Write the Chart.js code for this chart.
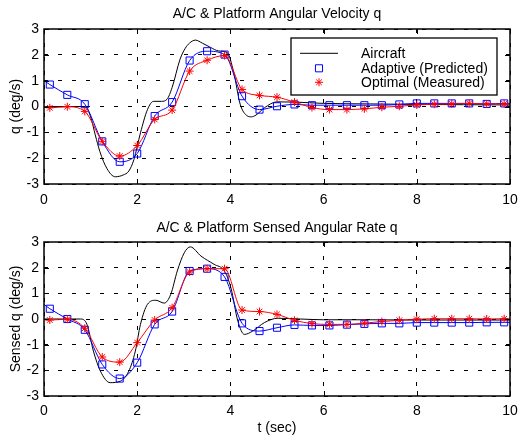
<!DOCTYPE html>
<html>
<head>
<meta charset="utf-8">
<script src="https://cdn.jsdelivr.net/npm/chart.js@4.4.0/dist/chart.umd.min.js"></script>
<style>
  html, body { margin: 0; padding: 0; background: #fff; }
  #wrap { position: relative; width: 518px; height: 437px; }
  .panel { position: absolute; left: 0; width: 518px; }
</style>
</head>
<body>
<div id="wrap">
  <div class="panel" style="top:0;height:218px"><canvas id="top-chart"></canvas></div>
  <div class="panel" style="top:218px;height:219px"><canvas id="bottom-chart"></canvas></div>
</div>
<script>
// sample times of the marked series (line also runs from t=0 to t=10)
const lineTimes = [0, 0.125, 0.5, 0.875, 1.25, 1.625, 2, 2.375, 2.75, 3.125, 3.5, 3.875, 4.25, 4.625,
  5, 5.375, 5.75, 6.125, 6.5, 6.875, 7.25, 7.625, 8, 8.375, 8.75, 9.125, 9.5, 9.875, 10];

// top panel: angular velocity q
const topAdaptive = [1.0, 0.85, 0.45, 0.09, -1.35, -2.14, -1.82, -0.37, 0.17, 1.78, 2.14, 2.01, 0.40, -0.12,
  0.01, 0.08, 0.05, 0.05, 0.05, 0.05, 0.05, 0.08, 0.12, 0.12, 0.12, 0.12, 0.10, 0.12, 0.12];
const topOptimal = [0, -0.05, -0.01, -0.19, -1.35, -1.92, -1.51, -0.50, -0.14, 1.37, 1.79, 1.97, 0.66, 0.43,
  0.36, 0.17, -0.04, -0.12, -0.12, -0.09, -0.03, 0.01, 0.06, 0.09, 0.10, 0.12, 0.10, 0.10, 0.10];
const topAircraftT = [0, 0.5, 0.88, 1.0, 1.1, 1.2, 1.35, 1.53, 1.7, 1.82, 1.93, 2.07, 2.22, 2.35, 2.52, 2.64, 2.75,
  2.92, 3.03, 3.12, 3.25, 3.4, 3.57, 3.75, 3.93, 4.07, 4.21, 4.36, 4.45, 4.55, 4.73, 5.0, 5.4, 6, 7, 8, 9, 10];
const topAircraftQ = [0, 0, 0, -0.4, -1.1, -1.75, -2.4, -2.72, -2.65, -2.5, -2.05, -1.02, -0.12, 0.2, 0.2, 0.28, 0.74,
  1.83, 2.25, 2.45, 2.57, 2.45, 2.29, 2.15, 2.09, 1.33, 0.09, -0.36, -0.4, -0.33, -0.05, 0.18, 0.17, 0.12, 0.1, 0.08, 0.07, 0.06];

// bottom panel: sensed angular rate q
const bottomAdaptive = [0.57, 0.40, 0, -0.42, -1.77, -2.32, -1.70, -0.21, 0.29, 1.87, 1.96, 1.64, -0.17, -0.47,
  -0.34, -0.23, -0.25, -0.25, -0.22, -0.19, -0.17, -0.17, -0.14, -0.14, -0.14, -0.14, -0.13, -0.13, -0.13];
const bottomOptimal = [-0.03, -0.04, -0.01, -0.36, -1.48, -1.68, -0.92, -0.04, 0.44, 1.83, 1.96, 1.96, 0.35, 0.29,
  0.18, -0.05, -0.18, -0.21, -0.21, -0.16, -0.10, -0.05, -0.01, 0.01, 0.01, 0.01, 0, 0.01, 0.01];
const bottomAircraftT = [0, 0.5, 0.78, 0.92, 1.06, 1.21, 1.42, 1.64, 1.82, 1.96, 2.07, 2.22, 2.4, 2.58, 2.72,
  2.86, 3.01, 3.14, 3.37, 3.65, 3.87, 4.01, 4.16, 4.3, 4.48, 4.73, 5.02, 5.5, 6, 7, 8, 10];
const bottomAircraftQ = [0, 0, 0, -0.2, -1.25, -2.03, -2.48, -2.42, -2.03, -1.25, -0.21, 0.57, 0.73, 0.62, 0.96,
  1.87, 2.58, 2.81, 2.45, 2.13, 1.87, 1.22, -0.08, -0.6, -0.47, -0.14, 0.03, 0, -0.03, -0.03, -0.04, -0.04];

const xTicks = [0, 2, 4, 6, 8, 10];
const yTicks = [-3, -2, -1, 0, 1, 2, 3];

Chart.defaults.font.family = "'Liberation Sans', Arial, sans-serif";
Chart.defaults.font.size = 14;
Chart.defaults.color = '#000';

function toPoints(ts, vs) {
  return ts.map((t, i) => ({ x: t, y: vs[i] }));
}

// hide markers on the line-only end points
function markerRadius(r) {
  return ctx => (ctx.dataIndex === 0 || ctx.dataIndex === lineTimes.length - 1) ? 0 : r;
}

/**
 * MATLAB style box with inward tick marks
 */
const boxTicks = {
  id: 'boxTicks',
  afterDatasetsDraw(chart) {
    const { ctx, chartArea: a, scales } = chart;
    ctx.save();
    ctx.strokeStyle = '#000';
    ctx.lineWidth = 1;
    ctx.beginPath();
    xTicks.forEach(v => {
      const px = Math.round(scales.x.getPixelForValue(v)) + 0.5;
      ctx.moveTo(px, a.bottom); ctx.lineTo(px, a.bottom - 5);
      ctx.moveTo(px, a.top); ctx.lineTo(px, a.top + 5);
    });
    yTicks.forEach(v => {
      const py = Math.round(scales.y.getPixelForValue(v)) + 0.5;
      ctx.moveTo(a.left, py); ctx.lineTo(a.left + 5, py);
      ctx.moveTo(a.right, py); ctx.lineTo(a.right - 5, py);
    });
    ctx.stroke();
    ctx.lineWidth = 1.5;
    ctx.strokeRect(a.left, a.top, a.right - a.left, a.bottom - a.top);
    ctx.restore();
  }
};

/**
 * Boxed legend drawn inside the top right of the plot
 */
const boxLegend = {
  id: 'boxLegend',
  afterDraw(chart, args, opts) {
    if (!opts.show) return;
    const { ctx, chartArea: a } = chart;
    const w = 206, h = 57;
    const x = a.right - 13 - w, y = a.top + 9;
    ctx.save();
    ctx.fillStyle = '#fff';
    ctx.fillRect(x, y, w, h);
    ctx.strokeStyle = '#000';
    ctx.lineWidth = 1.3;
    ctx.strokeRect(x, y, w, h);
    const rows = [15.3, 30.3, 44.3];
    // order as in reference: Aircraft, Adaptive, Optimal
    const sets = [chart.data.datasets[2], chart.data.datasets[1], chart.data.datasets[0]];
    ctx.font = "14px 'Liberation Sans', Arial, sans-serif";
    ctx.textBaseline = 'middle';
    ctx.textAlign = 'left';
    sets.forEach((ds, i) => {
      const ry = y + rows[i];
      if (ds.pointStyle === false) {
        ctx.strokeStyle = ds.borderColor;
        ctx.lineWidth = 1;
        ctx.beginPath();
        ctx.moveTo(x + 9, ry); ctx.lineTo(x + 47, ry);
        ctx.stroke();
      } else {
        ctx.strokeStyle = ds.borderColor;
        ctx.fillStyle = 'rgba(0,0,0,0)';
        Chart.helpers.drawPoint(ctx, { pointStyle: ds.pointStyle, radius: ds.legendRadius, borderWidth: 1, rotation: 0 }, x + 28, ry);
      }
      ctx.fillStyle = '#000';
      ctx.fillText(ds.label, x + 70, ry + 0.5);
    });
    ctx.restore();
  }
};

function makeChart(canvasId, cfg) {
  const datasets = [
    {
      label: 'Optimal (Measured)',
      data: toPoints(lineTimes, cfg.optimal),
      borderColor: '#ff0000',
      borderWidth: 1,
      pointStyle: 'star',
      legendRadius: 4,
      pointRadius: markerRadius(4),
      pointBorderColor: '#ff0000',
      pointBorderWidth: 1,
      pointBackgroundColor: 'rgba(0,0,0,0)',
      cubicInterpolationMode: 'monotone',
      order: 0
    },
    {
      label: 'Adaptive (Predicted)',
      data: toPoints(lineTimes, cfg.adaptive),
      borderColor: '#0000ff',
      borderWidth: 1,
      pointStyle: 'rect',
      legendRadius: 5,
      pointRadius: markerRadius(5),
      pointBorderColor: '#0000ff',
      pointBorderWidth: 1,
      pointBackgroundColor: 'rgba(0,0,0,0)',
      cubicInterpolationMode: 'monotone',
      order: 1
    },
    {
      label: 'Aircraft',
      data: toPoints(cfg.aircraftT, cfg.aircraftQ),
      borderColor: '#000000',
      borderWidth: 1,
      pointStyle: false,
      pointRadius: 0,
      cubicInterpolationMode: 'monotone',
      order: 2
    }
  ];

  return new Chart(document.getElementById(canvasId), {
    type: 'line',
    data: { datasets },
    options: {
      responsive: true,
      maintainAspectRatio: false,
      animation: false,
      events: [],
      layout: { padding: 0 },
      plugins: {
        legend: { display: false },
        tooltip: { enabled: false },
        title: {
          display: true,
          text: cfg.title,
          fullSize: false,
          font: { size: 14, weight: 'normal' },
          color: '#000',
          padding: cfg.titlePad
        },
        boxLegend: { show: cfg.legend }
      },
      scales: {
        x: {
          type: 'linear',
          min: 0,
          max: 10,
          afterBuildTicks: s => { s.ticks = xTicks.map(v => ({ value: v })); },
          afterFit: s => {
            s.height = cfg.xHeight;
            s.paddingRight = 8;
            s.paddingLeft = 0;
          },
          ticks: { color: '#000', padding: cfg.xTickPad, font: { size: 14 } },
          grid: { color: '#000', lineWidth: 1, drawTicks: false },
          border: { display: false, dash: [4, 10] },
          title: {
            display: !!cfg.xTitle,
            text: cfg.xTitle || '',
            color: '#000',
            font: { size: 14 },
            padding: { top: 0, bottom: 0 }
          }
        },
        y: {
          min: -3,
          max: 3,
          afterBuildTicks: s => { s.ticks = yTicks.map(v => ({ value: v })); },
          afterFit: s => { s.width = 44; },
          ticks: { color: '#000', padding: 5, font: { size: 14 } },
          grid: { color: '#000', lineWidth: 1, drawTicks: false },
          border: { display: false, dash: [4, 10] },
          title: {
            display: true,
            text: cfg.yTitle,
            color: '#000',
            font: { size: 14 },
            padding: { top: 7.6, bottom: 0 }
          }
        }
      }
    },
    plugins: [boxTicks, boxLegend]
  });
}

makeChart('top-chart', {
  title: 'A/C & Platform Angular Velocity q',
  titlePad: { top: 5.6, bottom: 6.6 },
  yTitle: 'q (deg/s)',
  xTitle: null,
  xHeight: 34,
  xTickPad: 8,
  legend: true,
  adaptive: topAdaptive,
  optimal: topOptimal,
  aircraftT: topAircraftT,
  aircraftQ: topAircraftQ
});

makeChart('bottom-chart', {
  title: 'A/C & Platform Sensed Angular Rate q',
  titlePad: { top: 1.6, bottom: 5.6 },
  yTitle: 'Sensed q (deg/s)',
  xTitle: 't (sec)',
  xHeight: 41,
  xTickPad: 7,
  legend: false,
  adaptive: bottomAdaptive,
  optimal: bottomOptimal,
  aircraftT: bottomAircraftT,
  aircraftQ: bottomAircraftQ
});
</script>
</body>
</html>
